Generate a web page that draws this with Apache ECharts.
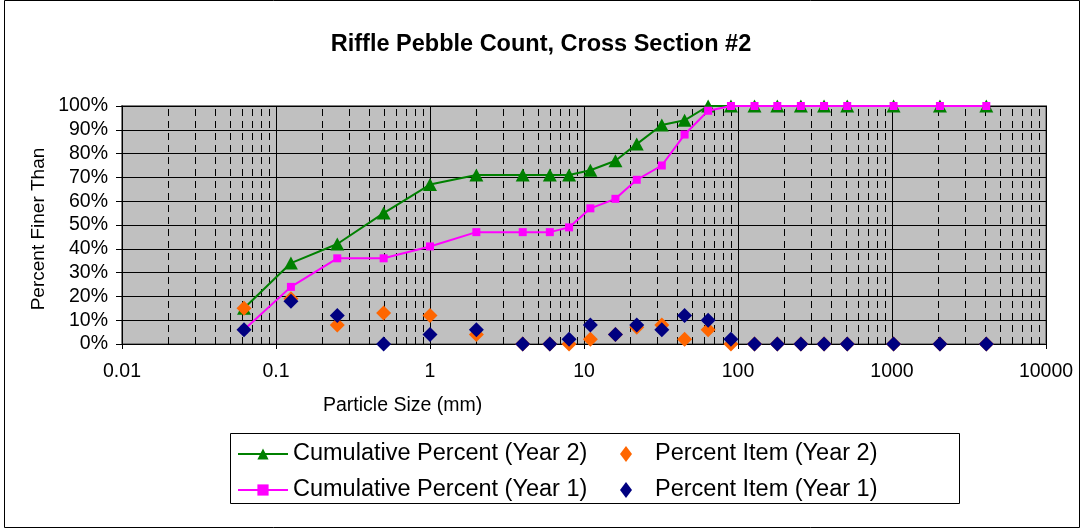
<!DOCTYPE html>
<html>
<head>
<meta charset="utf-8">
<script src="https://cdn.jsdelivr.net/npm/echarts@6/dist/echarts.min.js"></script>
<style>
  html, body { margin: 0; padding: 0; background: #fff; }
</style>
</head>
<body>
<div id="chart" style="width:1082px;height:529px;"></div>
<script>
// particle sizes (mm), sieve classes
var sizes = [0.062, 0.125, 0.25, 0.5, 1, 2, 4, 6, 8, 11, 16, 22, 32, 45, 64, 90, 128, 180, 256, 362, 512, 1024, 2048, 4096]
var cumYear2 = [15, 34, 42, 55, 67, 71, 71, 71, 71, 73, 77, 84, 92, 94, 100, 100, 100, 100, 100, 100, 100, 100, 100, 100]
var cumYear1 = [6, 24, 36, 36, 41, 47, 47, 47, 49, 57, 61, 69, 75, 88, 98, 100, 100, 100, 100, 100, 100, 100, 100, 100]
var itemYear2 = [15, 19, 8, 13, 12, 4, 0, 0, 0, 2, 4, 7, 8, 2, 6, 0, 0, 0, 0, 0, 0, 0, 0, 0]
var itemYear1 = [6, 18, 12, 0, 4, 6, 0, 0, 2, 8, 4, 8, 6, 12, 10, 2, 0, 0, 0, 0, 0, 0, 0, 0]
var decades = [0.01, 0.1, 1, 10, 100, 1000]
var minorSteps = [2, 3, 4, 5, 6, 7, 8, 9]

var minorLines = []
decades.forEach(function (d) {
  minorSteps.forEach(function (m) {
    minorLines.push([+(d * m).toPrecision(6)])
  })
})

function pairs(ys) {
  return sizes.map(function (x, i) { return [x, ys[i]] })
}

var font = '"Liberation Sans", Arial, sans-serif'

var myChart = echarts.init(document.getElementById('chart'))

var option = {
  animation: false,
  backgroundColor: '#fff',
  title: {
    text: 'Riffle Pebble Count, Cross Section #2',
    left: 'center',
    top: 28,
    textStyle: { fontFamily: font, fontSize: 23.5, fontWeight: 'bold', color: '#000' }
  },
  grid: {
    left: 122,
    right: 36,
    top: 106,
    bottom: 185,
    show: true,
    backgroundColor: '#c0c0c0',
    borderColor: '#808080',
    borderWidth: 2
  },
  legend: [
    {
      data: ['Cumulative Percent (Year 2)', 'Cumulative Percent (Year 1)'],
      orient: 'vertical',
      left: 232,
      top: 436,
      itemWidth: 50,
      itemHeight: 14,
      itemGap: 10,
      textStyle: { fontFamily: font, fontSize: 23.5, color: '#000', lineHeight: 26 }
    },
    {
      data: ['Percent Item (Year 2)', 'Percent Item (Year 1)'],
      orient: 'vertical',
      left: 615,
      top: 436,
      itemWidth: 12,
      itemHeight: 16,
      itemGap: 10,
      textStyle: { fontFamily: font, fontSize: 23.5, color: '#000', lineHeight: 26, padding: [0, 0, 0, 18] }
    }
  ],
  xAxis: {
    type: 'log',
    logBase: 10,
    min: 0.01,
    max: 10000,
    interval: 1,
    axisLine: { lineStyle: { color: '#000', width: 1 } },
    axisTick: { show: true, length: 5, lineStyle: { color: '#000' } },
    axisLabel: {
      margin: 18,
      fontFamily: font,
      fontSize: 19.5,
      color: '#000',
      formatter: function (v) { return String(Number((+v).toPrecision(4))) }
    },
    splitLine: { show: true, lineStyle: { color: '#000', width: 1 } }
  },
  yAxis: {
    type: 'value',
    min: 0,
    max: 100,
    interval: 10,
    axisLine: { show: true, lineStyle: { color: '#000', width: 1 } },
    axisTick: { show: true, length: 6, lineStyle: { color: '#000' } },
    axisLabel: { margin: 14, fontFamily: font, fontSize: 19.5, color: '#000', formatter: '{value}%' },
    splitLine: { show: true, lineStyle: { color: '#000', width: 1 } }
  },
  graphic: [
    {
      type: 'rect',
      shape: { x: 4.5, y: 0.5, width: 1075, height: 527 },
      style: { fill: 'none', stroke: '#000', lineWidth: 1 },
      silent: true,
      z: -10
    },
    {
      type: 'rect',
      shape: { x: 230.5, y: 433.5, width: 729, height: 70 },
      style: { fill: 'none', stroke: '#000', lineWidth: 1 },
      silent: true
    },
    {
      type: 'text',
      x: 323,
      y: 406,
      style: { text: 'Particle Size (mm)', font: '19.5px ' + font, fill: '#000', verticalAlign: 'middle', align: 'left' },
      silent: true
    },
    {
      type: 'text',
      x: 39,
      y: 229,
      rotation: Math.PI / 2,
      style: { text: 'Percent Finer Than', font: '19px ' + font, fill: '#000', verticalAlign: 'middle', align: 'center' },
      silent: true
    }
  ],
  series: [
    {
      // dashed minor gridlines at 2..9 of each decade
      type: 'custom',
      z: 1,
      silent: true,
      data: minorLines,
      encode: { x: 0 },
      renderItem: function (params, api) {
        var bottom = api.coord([api.value(0), 0])
        var top = api.coord([api.value(0), 100])
        var x = Math.round(bottom[0]) + 0.5
        return {
          type: 'line',
          shape: { x1: x, y1: bottom[1], x2: x, y2: top[1] },
          style: { stroke: '#000', lineWidth: 1, lineDash: [7, 5] }
        }
      }
    },
    {
      name: 'Cumulative Percent (Year 2)',
      type: 'line',
      z: 3,
      data: pairs(cumYear2),
      symbol: 'triangle',
      symbolSize: [14, 13],
      showAllSymbol: true,
      lineStyle: { color: '#008000', width: 2 },
      itemStyle: { color: '#008000' }
    },
    {
      name: 'Cumulative Percent (Year 1)',
      type: 'line',
      z: 4,
      data: pairs(cumYear1),
      symbol: 'rect',
      symbolSize: 8,
      showAllSymbol: true,
      lineStyle: { color: '#ff00ff', width: 2 },
      itemStyle: { color: '#ff00ff' }
    },
    {
      name: 'Percent Item (Year 2)',
      type: 'scatter',
      z: 5,
      data: pairs(itemYear2),
      symbol: 'diamond',
      symbolSize: [15, 15],
      itemStyle: { color: '#ff6600', opacity: 1 }
    },
    {
      name: 'Percent Item (Year 1)',
      type: 'scatter',
      z: 6,
      data: pairs(itemYear1),
      symbol: 'diamond',
      symbolSize: [15, 15],
      itemStyle: { color: '#000080', opacity: 1 }
    }
  ]
}

myChart.setOption(option)
</script>
</body>
</html>
